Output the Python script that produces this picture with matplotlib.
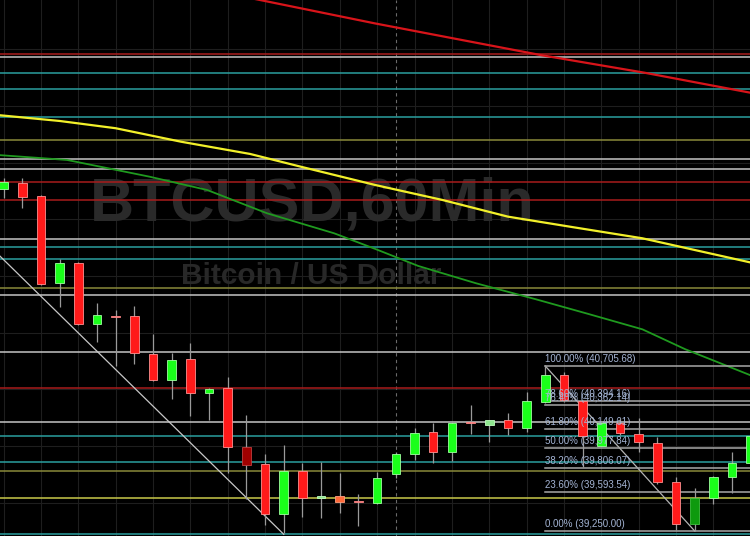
import numpy as np
import matplotlib.pyplot as plt

# hourly candles (index 0..40), prices in USD
opens = [42264, 42317, 42208, 41435, 41617, 41074, 41147, 41147, 40812, 40582,
         40770, 40465, 40509, 39991, 39841, 39400, 39777, 39538, 39559, 39519,
         39494, 39753, 39929, 40126, 39950, 40209, 40188, 40229, 40161, 40391,
         40626, 40400, 40003, 40200, 40106, 40024, 39685, 39312, 39538, 39724,
         39847]
highs = [42362, 42367, 42214, 41647, 41623, 41259, 41197, 41235, 40991, 40823,
         40906, 40511, 40606, 40271, 39927, 40006, 39853, 39859, 39759, 39574,
         39773, 39947, 40156, 40200, 40212, 40362, 40233, 40294, 40474, 40705.68,
         40653, 40406, 40214, 40244, 40244, 40077, 39729, 39627, 39735, 39950,
         40141]
lows = [42185, 42097, 41420, 41229, 41067, 40920, 40706, 40721, 40573, 40417,
        40265, 40229, 39759, 39530, 39303, 39230, 39376, 39362, 39406, 39294,
        39488, 39715, 39876, 39853, 39870, 40106, 40038, 40097, 40126, 40379,
        40388, 39817, 40000, 40097, 39950, 39665, 39259, 39250, 39488, 39583,
        39823]
closes = [42326, 42194, 41429, 41617, 41074, 41156, 41138, 40818, 40582, 40759,
          40465, 40505, 39988, 39832, 39400, 39777, 39541, 39559, 39508, 39510,
          39718, 39932, 40117, 39944, 40205, 40203, 40229, 40161, 40397, 40626,
          40406, 40088, 40205, 40112, 40033, 39685, 39312, 39538, 39729, 39847,
          40088]

# moving averages (candle index, price)
ma_red_x = [-1, 13.7, 19.9, 28.8, 34.3, 40.5]
ma_red_y = [44420, 43935, 43727, 43447, 43293, 43100]
ma_yellow_x = [-1, 3.0, 6.0, 9.5, 13.2, 15.9, 19.9, 23.5, 27.0, 30.6, 34.2, 40.5]
ma_yellow_y = [42930, 42867, 42803, 42684, 42576, 42464, 42302, 42170, 42023,
               41927, 41832, 41600]
ma_green_x = [-1, 3.4, 7.8, 10.9, 14.1, 17.7, 19.9, 22.2, 25.3, 28.5, 31.3, 34.2, 36.5, 40.5]
ma_green_y = [42575, 42523, 42376, 42258, 42053, 41876, 41738, 41588, 41435,
              41294, 41165, 41029, 40853, 40590]

# horizontal levels
red_levels = [43458, 42329, 42167, 40509]
cyan_levels = [43288, 43147, 42905, 41758, 41650, 40091, 39856, 39221]
white_levels = [43434, 42532, 42441, 41826, 41329, 40827, 40209]
olive_levels = [42699, 41394, 39779]
yellow_levels = [39538]

# trendline and fibonacci retracement
trend_x = [-0.2, 15.0]
trend_y = [41676, 39221]
fib_start, fib_end = 29, 37
fib_pcts = ['100.00%', '78.60%', '76.40%', '61.80%', '50.00%', '38.20%', '23.60%', '0.00%']
fib_prices = [40705.68, 40394.16, 40362.14, 40149.61, 39977.84, 39806.07, 39593.54, 39250.00]

fig = plt.figure(figsize=(7.5, 5.36), dpi=100)
fig.patch.set_facecolor('black')
ax = fig.add_axes([0, 0, 1, 1])
ax.set_facecolor('black')
ax.set_xlim(-0.19, 39.96)
ax.set_ylim(39206, 43934)
ax.axis('off')

font = ['Liberation Sans', 'DejaVu Sans']

# grid
for gx in range(0, 41, 2):
    ax.axvline(gx, color='#1e1e1e', lw=0.8, zorder=0)
for gy in range(39500, 44000, 500):
    ax.axhline(gy, color='#1e1e1e', lw=0.8, zorder=0)
ax.axvline(21, color='#6a6a6a', lw=0.8, ls=(0, (3, 3)), zorder=0)

# watermark
ax.text(0.417, 0.588, 'BTCUSD,60Min', transform=ax.transAxes, ha='center',
        va='baseline', fontsize=44, fontweight='bold', color='#2a2a2a',
        family=font, zorder=1)
ax.text(0.415, 0.47, 'Bitcoin / US Dollar', transform=ax.transAxes, ha='center',
        va='baseline', fontsize=21.5, fontweight='bold', color='#282828',
        family=font, zorder=1)

# levels
for lv in red_levels:
    ax.axhline(lv, color='#a81c1c', lw=1.1, zorder=2)
for lv in cyan_levels:
    ax.axhline(lv, color='#2a9e9e', lw=1.1, zorder=2)
for lv in white_levels:
    ax.axhline(lv, color='#c4c4c4', lw=1.1, zorder=2)
for lv in olive_levels:
    ax.axhline(lv, color='#8a8a3a', lw=1.1, zorder=2)
for lv in yellow_levels:
    ax.axhline(lv, color='#c8c84a', lw=1.1, zorder=2)

# moving averages
ax.plot(ma_red_x, ma_red_y, color='#d8141a', lw=1.6, zorder=3)
ax.plot(ma_yellow_x, ma_yellow_y, color='#f2f02a', lw=1.6, zorder=3)
ax.plot(ma_green_x, ma_green_y, color='#1f9a1f', lw=1.3, zorder=3)

# trendline
ax.plot(trend_x, trend_y, color='#c8c8c8', lw=0.9, zorder=3)

# fibonacci
ax.plot([fib_start, fib_end], [fib_prices[0], fib_prices[-1]], color='#b4b4b4', lw=0.9, zorder=3)
for pct, price in zip(fib_pcts, fib_prices):
    ax.plot([fib_start, 41], [price, price], color='#a8a8a8', lw=1.1, zorder=3)
    ax.annotate(f'{pct} ({price:,.2f})', (fib_start, price), xytext=(0, 1.5),
                textcoords='offset points', ha='left', va='bottom',
                fontsize=7, color='#a4b4d4', family=font, zorder=6)

# candles
special = {13: ('#a00000', '#c04040'), 17: ('#8fe88f', '#c0ffc0'),
           18: ('#ff6a3a', '#ffa080'), 26: ('#8fe88f', '#c0ffc0'),
           37: ('#0e9a0e', '#40c040')}
x = np.arange(len(opens))
for i in x:
    o, h, l, c = opens[i], highs[i], lows[i], closes[i]
    ax.vlines(i, l, h, color='#9a9a9a', lw=0.9, zorder=4)
    if c >= o:
        face, edge = '#1aff1a', '#a0ffa0'
    else:
        face, edge = '#ff1a1a', '#ff9090'
    if i in special:
        face, edge = special[i]
    ax.bar(i, max(abs(c - o), 8), bottom=min(o, c), width=0.46,
           color=face, edgecolor=edge, lw=0.6, zorder=5)

fig.savefig('out.png', dpi=100, facecolor='black')
